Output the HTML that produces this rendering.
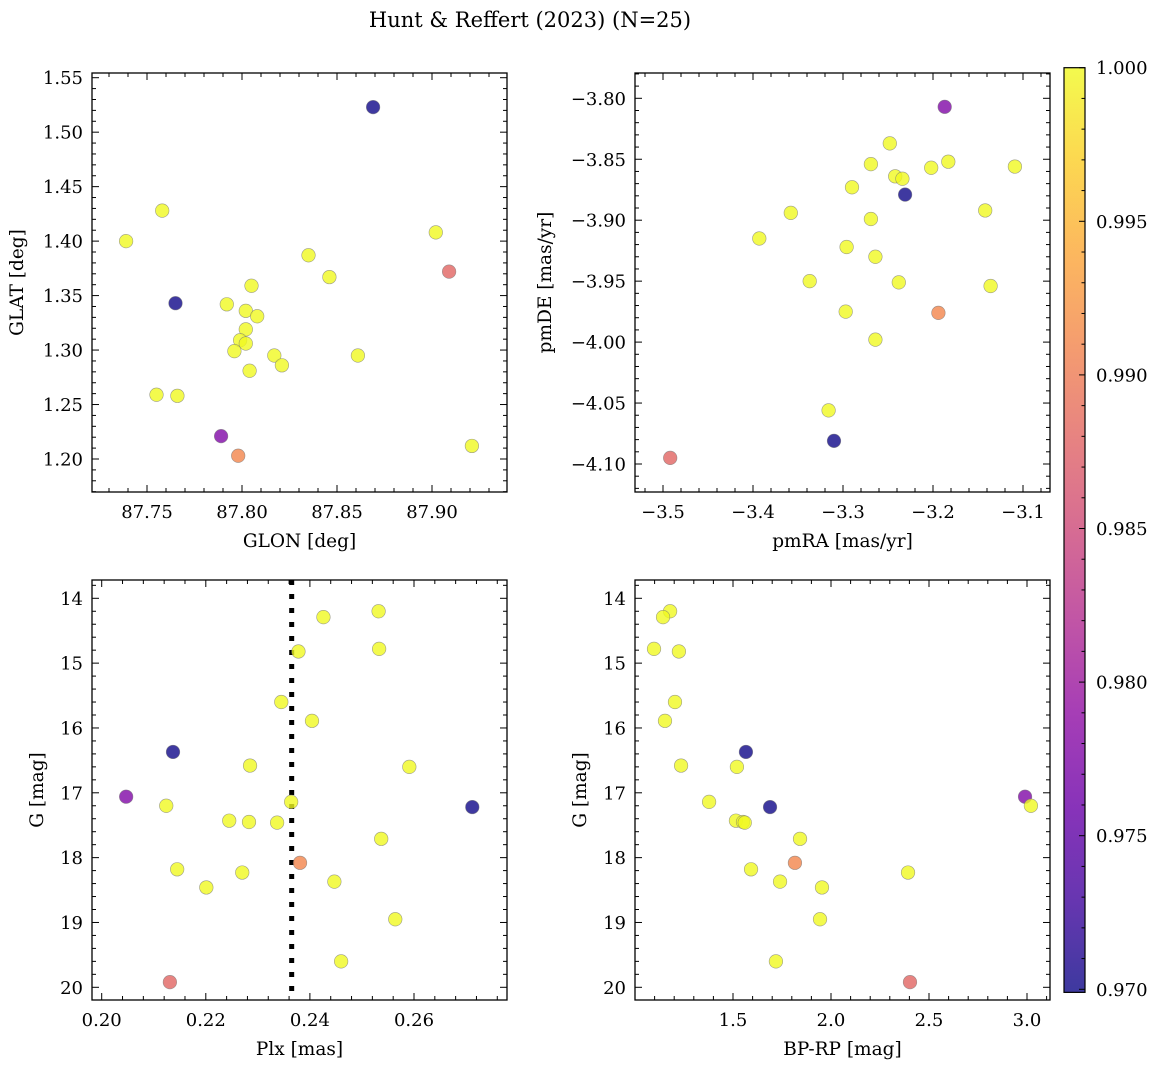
<!DOCTYPE html>
<html><head><meta charset="utf-8">
<style>
html,body{margin:0;padding:0;background:#fff;}
svg text{font-family:"DejaVu Serif","Liberation Serif",serif;fill:#000;}
</style></head>
<body>
<svg id="fig" width="1161" height="1067" viewBox="0 0 1161 1067" xmlns="http://www.w3.org/2000/svg">
<defs>
<linearGradient id="plasmaGrad" x1="0" y1="1" x2="0" y2="0">
<stop offset="0" stop-color="#0d0887"/><stop offset="0.1" stop-color="#41049d"/><stop offset="0.2" stop-color="#6a00a8"/><stop offset="0.3" stop-color="#8f0da4"/><stop offset="0.4" stop-color="#b12a90"/><stop offset="0.5" stop-color="#cc4778"/><stop offset="0.6" stop-color="#e16462"/><stop offset="0.7" stop-color="#f2844b"/><stop offset="0.8" stop-color="#fca636"/><stop offset="0.9" stop-color="#fcce25"/><stop offset="1" stop-color="#f0f921"/>
</linearGradient>
</defs>
<text x="530" y="27" font-size="21" text-anchor="middle">Hunt &amp; Reffert (2023) (N=25)</text>
</svg>
<script>
// ---- data ----
const glon = [87.739,87.758,87.765,87.869,87.902,87.909,87.835,87.846,87.805,87.792,87.802,87.808,87.802,87.799,87.802,87.796,87.817,87.861,87.804,87.821,87.755,87.766,87.921,87.789,87.798];
const glat = [1.400,1.428,1.343,1.523,1.408,1.372,1.387,1.367,1.359,1.342,1.336,1.331,1.319,1.309,1.306,1.299,1.295,1.295,1.281,1.286,1.259,1.258,1.212,1.221,1.203];
const probA = [1,1,0.970,0.970,1,0.988,1,1,1,1,1,1,1,1,1,1,1,1,1,1,1,1,1,0.9776,0.991];

const pmra = [-3.187,-3.248,-3.269,-3.242,-3.234,-3.183,-3.202,-3.109,-3.290,-3.231,-3.358,-3.142,-3.269,-3.393,-3.296,-3.264,-3.337,-3.238,-3.136,-3.297,-3.194,-3.264,-3.316,-3.310,-3.492];
const pmde = [-3.807,-3.837,-3.854,-3.864,-3.866,-3.852,-3.857,-3.856,-3.873,-3.879,-3.894,-3.892,-3.899,-3.915,-3.922,-3.930,-3.950,-3.951,-3.954,-3.975,-3.976,-3.998,-4.056,-4.081,-4.095];
const probB = [0.9776,1,1,1,1,1,1,1,1,0.970,1,1,1,1,1,1,1,1,1,1,0.991,1,1,0.970,0.988];

const plx = [0.2532,0.2426,0.2533,0.2378,0.2345,0.2404,0.2137,0.2591,0.2285,0.2047,0.2124,0.2364,0.2712,0.2245,0.2283,0.2337,0.2537,0.2381,0.2145,0.2447,0.2270,0.2201,0.2564,0.2460,0.2131];
const gmag = [14.2,14.29,14.78,14.82,15.6,15.89,16.37,16.6,16.58,17.06,17.2,17.14,17.22,17.43,17.45,17.46,17.71,18.08,18.18,18.37,18.23,18.46,18.95,19.6,19.92];
const bprp = [1.179,1.143,1.097,1.224,1.204,1.153,1.566,1.520,1.235,2.990,3.020,1.378,1.689,1.515,1.551,1.56,1.842,1.816,1.592,1.740,2.393,1.954,1.944,1.719,2.403];
const probC = [1,1,1,1,1,1,0.970,1,1,0.9776,1,1,0.970,1,1,1,1,0.991,1,1,1,1,1,1,0.988];
const plxRef = [0.2365];
const cbTicks = [0.970,0.975,0.980,0.985,0.990,0.995,1.000];

const NS="http://www.w3.org/2000/svg";
const svg=document.getElementById('fig');
function mk(tag,attrs,parent){const e=document.createElementNS(NS,tag);for(const k in attrs)e.setAttribute(k,attrs[k]);(parent||svg).appendChild(e);return e;}
function lin(v0,p0,v1,p1){const f=v=>p0+(v-v0)*(p1-p0)/(v1-v0);f.inv=p=>v0+(p-p0)*(v1-v0)/(p1-p0);return f;}

const stops=[[13,8,135],[65,4,157],[106,0,168],[143,13,164],[177,42,144],[204,71,120],[225,100,98],[242,132,75],[252,166,54],[252,206,37],[240,249,33]];
const vmin=0.9699,vmax=1.0;
function plasma(v){let t=(v-vmin)/(vmax-vmin);t=Math.max(0,Math.min(1,t))*10;const i=Math.min(9,Math.floor(t));const f=t-i;const a=stops[i],b=stops[i+1];return 'rgb('+a.map((c,k)=>Math.round(c+(b[k]-c)*f)).join(',')+')';}
function fmt(v,d){return (v<0?'\u2212':'')+Math.abs(v).toFixed(d);}

function panel(p){
  const g=mk('g',{});
  
  
  const {x0,x1,y0,y1,sx,sy}=p;
  const xa=sx.inv(x0),xb=sx.inv(x1);
  const xlo=Math.min(xa,xb),xhi=Math.max(xa,xb);
  for(let k=Math.ceil(xlo/p.xminor-1e-6);k*p.xminor<=xhi+1e-9;k++){
    const v=k*p.xminor;const px=sx(v);
    const major=Math.abs(v/p.xmajor-Math.round(v/p.xmajor))<1e-6;const L=major?7:4;
    mk('line',{x1:px,y1:y1,x2:px,y2:y1-L,stroke:'#000','stroke-width':1},g);
    mk('line',{x1:px,y1:y0,x2:px,y2:y0+L,stroke:'#000','stroke-width':1},g);
    if(major && (!p.xskip || !p.xskip.includes(Math.round(v*1000)/1000))){
      const t=mk('text',{x:px,y:y1+26,'font-size':18,'text-anchor':'middle'},g);t.textContent=fmt(v,p.xdec);
      
      
    }
  }
  const ya=sy.inv(y0),yb=sy.inv(y1);
  const ylo=Math.min(ya,yb),yhi=Math.max(ya,yb);
  for(let k=Math.ceil(ylo/p.yminor-1e-6);k*p.yminor<=yhi+1e-9;k++){
    const v=k*p.yminor;const py=sy(v);
    const major=Math.abs(v/p.ymajor-Math.round(v/p.ymajor))<1e-6;const L=major?7:4;
    mk('line',{x1:x0,y1:py,x2:x0+L,y2:py,stroke:'#000','stroke-width':1},g);
    mk('line',{x1:x1,y1:py,x2:x1-L,y2:py,stroke:'#000','stroke-width':1},g);
    if(major){
      const t=mk('text',{x:x0-9,y:py+6.5,'font-size':18,'text-anchor':'end'},g);t.textContent=fmt(v,p.ydec);
      
      
    }
  }
  if(p.vline){p.vline.forEach(v=>{const l=mk('line',{x1:sx(v),y1:y0,x2:sx(v),y2:y1,stroke:'#000','stroke-width':5,'stroke-dasharray':'5,9'},g);
    
    });}
  p.xs.forEach((xv,i)=>{
    const c=mk('circle',{cx:sx(xv),cy:sy(p.ys[i]),r:6.8,fill:plasma(p.pr[i]),'fill-opacity':0.8,stroke:'#777','stroke-opacity':0.7,'stroke-width':0.6},g);
    
    
  });
  mk('rect',{x:x0,y:y0,width:x1-x0,height:y1-y0,fill:'none',stroke:'#000','stroke-width':1.3},g);
  const xl=mk('text',{x:(x0+x1)/2,y:y1+55,'font-size':18.5,'text-anchor':'middle'},g);xl.textContent=p.xlabel;
  
  
  const yl=mk('text',{x:0,y:0,'font-size':18.5,'text-anchor':'middle',transform:'translate('+p.ylx+','+((y0+y1)/2)+') rotate(-90)'},g);yl.textContent=p.ylabel;
  
  
}

panel({name:'glon-glat-panel',x0:92,x1:507,y0:73,y1:492,sx:lin(87.75,147,87.90,432),sy:lin(1.55,77.7,1.20,459),xminor:0.01,xmajor:0.05,yminor:0.01,ymajor:0.05,xdec:2,ydec:2,xs:glon,ys:glat,pr:probA,xlabel:'GLON [deg]',ylabel:'GLAT [deg]',ylx:23});
panel({name:'proper-motion-panel',x0:635,x1:1050,y0:73,y1:492,sx:lin(-3.5,663,-3.1,1023),sy:lin(-3.80,98.3,-4.10,464),xminor:0.02,xmajor:0.1,yminor:0.01,ymajor:0.05,xdec:1,ydec:2,xs:pmra,ys:pmde,pr:probB,xlabel:'pmRA [mas/yr]',ylabel:'pmDE [mas/yr]',ylx:551});
panel({name:'parallax-mag-panel',x0:92,x1:507,y0:580,y1:1000,sx:lin(0.20,101.7,0.26,414),sy:lin(14,598.3,20,987.3),xminor:0.004,xmajor:0.02,yminor:0.2,ymajor:1,xdec:2,ydec:0,xs:plx,ys:gmag,pr:probC,xlabel:'Plx [mas]',ylabel:'G [mag]',ylx:43,vline:plxRef});
panel({name:'color-mag-panel',x0:635,x1:1050,y0:580,y1:1000,sx:lin(1.5,733,3.0,1027),sy:lin(14,598.3,20,987.3),xminor:0.1,xmajor:0.5,yminor:0.2,ymajor:1,xdec:1,ydec:0,xs:bprp,ys:gmag,pr:probC,xlabel:'BP-RP [mag]',ylabel:'G [mag]',ylx:586,xskip:[1]});

// colorbar
const cb=mk('g',{});


const cy=lin(1.0,67.7,0.970,989.3);
const cbTop=cy(vmax),cbBot=cy(vmin);
mk('rect',{x:1064,y:cbTop,width:21,height:cbBot-cbTop,fill:'url(#plasmaGrad)','fill-opacity':0.8},cb);
for(let k=970;k<=1000;k++){const v=k/1000;const py=cy(v);const major=k%5===0;
  mk('line',{x1:1085,y1:py,x2:1085-(major?6:3.5),y2:py,stroke:'#000','stroke-width':1},cb);}
cbTicks.forEach(v=>{const t=mk('text',{x:1096,y:cy(v)+6.5,'font-size':18},cb);t.textContent=v.toFixed(3);
  
  });
mk('rect',{x:1064,y:cbTop,width:21,height:cbBot-cbTop,fill:'none',stroke:'#000','stroke-width':1.2},cb);
</script>
</body></html>
